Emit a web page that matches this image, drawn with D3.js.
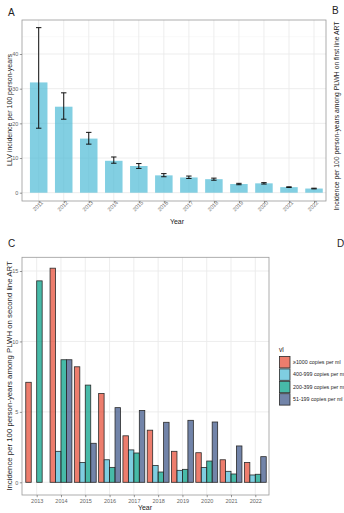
<html>
<script src="https://d3js.org/d3.v7.min.js"></script>
<style>
body { margin: 0; background: #fff; }
text { font-family: "Liberation Sans", Arial, sans-serif; }
</style>
<body>
<svg id="fig" width="344" height="513"></svg>
<script>
// panel A: LLV incidence per year, with 95% CI
var years_a = ["2011","2012","2013","2014","2015","2016","2017","2018","2019","2020","2021","2022"];
var llv_rate  = [31.8, 24.8, 15.6, 9.2, 7.7, 5.0, 4.4, 3.9, 2.5, 2.7, 1.6, 1.2];
var llv_lower = [18.6, 21.2, 14.0, 8.5, 7.0, 4.6, 4.1, 3.6, 2.3, 2.5, 1.5, 1.1];
var llv_upper = [47.6, 28.8, 17.4, 10.3, 8.4, 5.5, 4.8, 4.2, 2.7, 2.9, 1.7, 1.3];
var ticks_a = [0, 10, 20, 30, 40];

// panel C: incidence on second line ART by viral load group
var years_c = ["2013","2014","2015","2016","2017","2018","2019","2020","2021","2022"];
var vl_levels = ["\u22651000 copies per ml", "400-999 copies per ml", "200-399 copies per ml", "51-199 copies per ml"];
var vl_ge1000  = [7.1, 15.2, 8.2, 6.3, 3.3, 3.7, 2.2, 2.1, 1.6, 1.4];
var vl_400_999 = [0.0, 2.2, 1.4, 1.6, 2.3, 1.2, 0.85, 1.05, 0.78, 0.52];
var vl_200_399 = [14.3, 8.7, 6.9, 1.06, 2.08, 0.73, 0.92, 1.51, 0.59, 0.57];
var vl_51_199  = [0.0, 8.7, 2.77, 5.3, 5.1, 4.26, 4.4, 4.28, 2.58, 1.82];
var ticks_c = [0, 5, 10, 15];
var vl_colors = ["#E64B35", "#4DBBD5", "#00A087", "#3C5488"];

var svg = d3.select("#fig");

function grid(g, xs, ys, x0, x1, y0, y1) {
  // minor y
  for (var i = 0; i < ys.length - 1; i++) {
    var m = (ys.scale(ys.vals[i]) + ys.scale(ys.vals[i+1])) / 2;
    g.append("line").attr("x1", x0).attr("x2", x1).attr("y1", m).attr("y2", m)
      .attr("stroke", "#F3F3F3").attr("stroke-width", 0.5);
  }
  var last = ys.vals[ys.vals.length - 1];
  var step = ys.vals[1] - ys.vals[0];
  var mt = ys.scale(last + step / 2);
  if (mt > y0) g.append("line").attr("x1", x0).attr("x2", x1).attr("y1", mt).attr("y2", mt)
      .attr("stroke", "#F3F3F3").attr("stroke-width", 0.5);
  ys.vals.forEach(function(v) {
    g.append("line").attr("x1", x0).attr("x2", x1).attr("y1", ys.scale(v)).attr("y2", ys.scale(v))
      .attr("stroke", "#EBEBEB").attr("stroke-width", 0.9);
  });
  xs.forEach(function(x) {
    g.append("line").attr("x1", x).attr("x2", x).attr("y1", y0).attr("y2", y1)
      .attr("stroke", "#EBEBEB").attr("stroke-width", 0.9);
  });
}

//////////////// Panel A ////////////////
var A = { l: 22, r: 326, t: 20, b: 201 };
var xa = d3.scalePoint().domain(years_a).range([38.7, 314]);
var ya = d3.scaleLinear().domain([0, 40]).range([192.7, 54]);
var bwa = xa.step() * 0.7;

var ga = svg.append("g");
grid(ga, years_a.map(function(d){ return xa(d); }), { scale: ya, vals: ticks_a }, A.l, A.r, A.t, A.b);

ga.selectAll("rect.bar").data(years_a).enter().append("rect")
  .attr("class", "bar")
  .attr("x", function(d){ return xa(d) - bwa/2; })
  .attr("width", bwa)
  .attr("y", function(d,i){ return ya(llv_rate[i]); })
  .attr("height", function(d,i){ return ya(0) - ya(llv_rate[i]); })
  .attr("fill", "#4DBBD5").attr("fill-opacity", 0.7);

// error bars
var cap = 2.7;
years_a.forEach(function(d, i) {
  var x = xa(d);
  ga.append("line").attr("x1", x).attr("x2", x).attr("y1", ya(llv_lower[i])).attr("y2", ya(llv_upper[i]))
    .attr("stroke", "#111").attr("stroke-width", 1);
  [llv_lower[i], llv_upper[i]].forEach(function(v) {
    ga.append("line").attr("x1", x - cap).attr("x2", x + cap).attr("y1", ya(v)).attr("y2", ya(v))
      .attr("stroke", "#111").attr("stroke-width", 1);
  });
});

ga.append("rect").attr("x", A.l).attr("y", A.t).attr("width", A.r - A.l).attr("height", A.b - A.t)
  .attr("fill", "none").attr("stroke", "#9A9A9A").attr("stroke-width", 0.8);

var axA = svg.append("g").attr("transform", "translate(" + A.l + ",0)")
  .call(d3.axisLeft(ya).tickValues(ticks_a).tickSize(2.2).tickPadding(1.5));
axA.select(".domain").remove();
axA.selectAll(".tick line").attr("stroke", "#555").attr("stroke-width", 0.6);
axA.selectAll(".tick text").attr("fill", "#666").style("font-size", "5.5px").style("font-family", "Liberation Sans, Arial");

var axAx = svg.append("g").attr("transform", "translate(0," + A.b + ")")
  .call(d3.axisBottom(xa).tickSize(2.2).tickPadding(2));
axAx.select(".domain").remove();
axAx.selectAll(".tick line").attr("stroke", "#555").attr("stroke-width", 0.6);
axAx.selectAll(".tick text").attr("fill", "#666").style("font-size", "5.5px")
  .style("font-family", "Liberation Sans, Arial")
  .attr("text-anchor", "end").attr("dy", null).attr("y", 4.5).attr("x", 1.5)
  .attr("transform", "rotate(-45)");

svg.append("text").attr("x", 177).attr("y", 224).attr("text-anchor", "middle")
  .style("font-size", "7px").attr("fill", "#222").text("Year");
svg.append("text").attr("transform", "translate(11.5," + 110 + ") rotate(-90)").attr("text-anchor", "middle")
  .style("font-size", "7px").attr("fill", "#222").text("LLV incidence per 100 person-years");
svg.append("text").attr("x", 8).attr("y", 16).style("font-size", "10px").attr("fill", "#222").text("A");

// panel B (cut off at the right edge)
svg.append("text").attr("x", 332).attr("y", 14).style("font-size", "10px").attr("fill", "#222").text("B");
svg.append("text").attr("transform", "translate(338.5," + 116 + ") rotate(-90)").attr("text-anchor", "middle")
  .style("font-size", "6.8px").attr("fill", "#222").text("Incidence per 100 person-years among PLWH on first line ART");

//////////////// Panel C ////////////////
var C = { l: 22, r: 269, t: 257.3, b: 495 };
var xc = d3.scalePoint().domain(years_c).range([36.7, 255.3]);
var yc = d3.scaleLinear().domain([0, 15]).range([482.3, 271]);
var xin = d3.scaleBand().domain(vl_levels).range([-xc.step() * 0.45, xc.step() * 0.45]);

var gc = svg.append("g");
grid(gc, years_c.map(function(d){ return xc(d); }), { scale: yc, vals: ticks_c }, C.l, C.r, C.t, C.b);

var series = [vl_ge1000, vl_400_999, vl_200_399, vl_51_199];
series.forEach(function(vals, s) {
  gc.selectAll("rect.s" + s).data(years_c).enter().append("rect")
    .attr("class", "s" + s)
    .attr("x", function(d){ return xc(d) + xin(vl_levels[s]); })
    .attr("width", xin.bandwidth())
    .attr("y", function(d,i){ return yc(vals[i]); })
    .attr("height", function(d,i){ return yc(0) - yc(vals[i]); })
    .attr("fill", vl_colors[s]).attr("fill-opacity", 0.72)
    .attr("stroke", "#2A2A2A").attr("stroke-width", 0.8);
});

gc.append("rect").attr("x", C.l).attr("y", C.t).attr("width", C.r - C.l).attr("height", C.b - C.t)
  .attr("fill", "none").attr("stroke", "#9A9A9A").attr("stroke-width", 0.8);

var axC = svg.append("g").attr("transform", "translate(" + C.l + ",0)")
  .call(d3.axisLeft(yc).tickValues(ticks_c).tickSize(2.2).tickPadding(1.5));
axC.select(".domain").remove();
axC.selectAll(".tick line").attr("stroke", "#555").attr("stroke-width", 0.6);
axC.selectAll(".tick text").attr("fill", "#666").style("font-size", "5.5px").style("font-family", "Liberation Sans, Arial");

var axCx = svg.append("g").attr("transform", "translate(0," + C.b + ")")
  .call(d3.axisBottom(xc).tickSize(2.2).tickPadding(1.5));
axCx.select(".domain").remove();
axCx.selectAll(".tick line").attr("stroke", "#555").attr("stroke-width", 0.6);
axCx.selectAll(".tick text").attr("fill", "#666").style("font-size", "5.5px").style("font-family", "Liberation Sans, Arial");

svg.append("text").attr("x", 145).attr("y", 510).attr("text-anchor", "middle")
  .style("font-size", "7px").attr("fill", "#222").text("Year");
svg.append("text").attr("transform", "translate(12," + 376 + ") rotate(-90)").attr("text-anchor", "middle")
  .style("font-size", "7.8px").attr("fill", "#222").text("Incidence per 100 person-years among PLWH on second line ART");
svg.append("text").attr("x", 8).attr("y", 247).style("font-size", "10px").attr("fill", "#222").text("C");
svg.append("text").attr("x", 337).attr("y", 247).style("font-size", "10px").attr("fill", "#222").text("D");

// legend
var lg = svg.append("g").attr("transform", "translate(279,356)");
lg.append("text").attr("x", 0).attr("y", -4).style("font-size", "6.5px").attr("fill", "#222").text("vl");
vl_levels.forEach(function(lab, i) {
  lg.append("rect").attr("x", 0.5).attr("y", i * 12.4 + 0.5).attr("width", 10.5).attr("height", 11.4)
    .attr("fill", vl_colors[i]).attr("fill-opacity", 0.72)
    .attr("stroke", "#2A2A2A").attr("stroke-width", 0.8);
  lg.append("text").attr("x", 14).attr("y", i * 12.4 + 8).style("font-size", "5.3px")
    .attr("fill", "#222").text(lab);
});
</script>
</body>
</html>
